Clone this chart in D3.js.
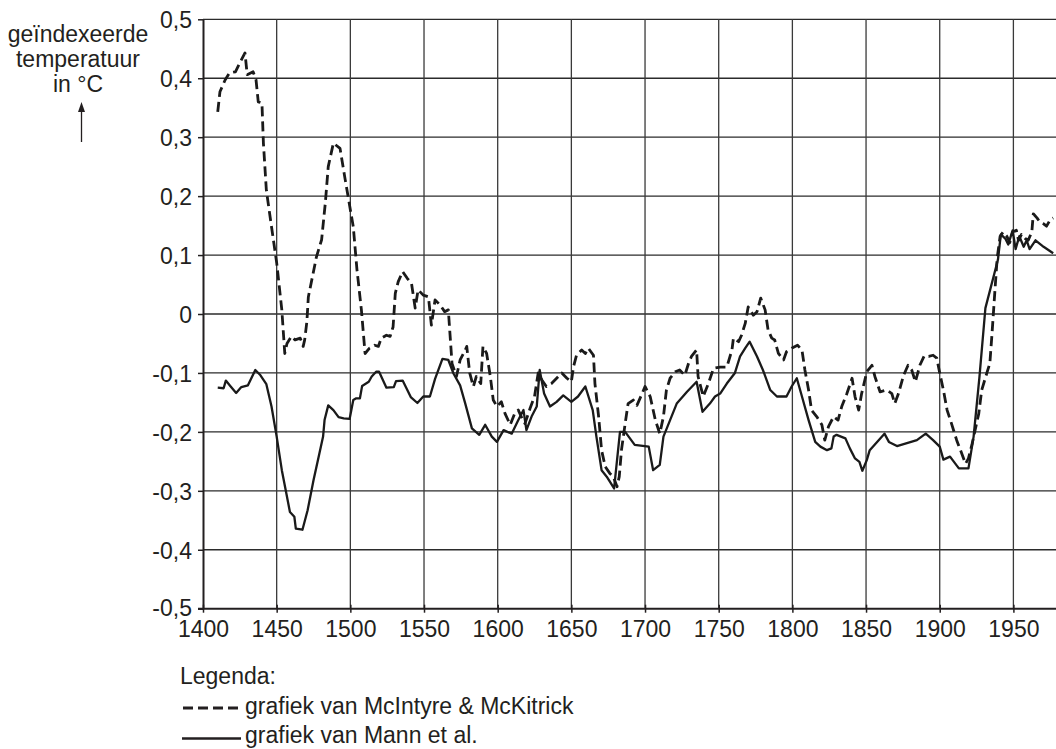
<!DOCTYPE html>
<html><head><meta charset="utf-8">
<script src="https://cdn.jsdelivr.net/npm/d3@7"></script>
<style>
body{margin:0;background:#fff}
svg text{font-family:"Liberation Sans",Arial,Helvetica,sans-serif;fill:#231f20}
</style>
</head><body>
<svg id="chart" width="1056" height="749"></svg>
<script>
// ---- data ----
const mmYears = [1410,1411.5,1415,1418,1422,1425,1428.5,1430,1434,1436,1437.5,1440,1441,1443,1446.5,1450,1453.5,1455.5,1457,1460,1462.5,1466,1468,1469,1470.5,1471.5,1477,1480.5,1483,1485,1488.5,1493,1496.5,1500,1502,1504.5,1507.5,1510,1513,1516.5,1519,1521,1524.5,1527,1529,1530.5,1532.5,1535.5,1538.5,1541.5,1544,1546,1549.5,1553,1555,1557.5,1561,1564,1566.5,1569,1572,1574.5,1578,1579,1581,1583.5,1585.5,1588.5,1590,1592.5,1595,1597,1599.5,1602.5,1605,1608.5,1611.5,1614,1616,1618.5,1622,1625,1627.5,1630,1633,1636.5,1640,1643.5,1647,1650,1651.5,1653.5,1657,1659.5,1661.5,1665,1666,1668.5,1670.5,1673,1676,1678.5,1681,1682.5,1684,1686.5,1688.5,1692,1694.5,1698,1700,1703.5,1707,1710,1712.5,1714.5,1717,1720.5,1723.5,1727,1729.5,1731.5,1735,1736,1739.5,1743,1746.5,1751,1755.5,1759,1760,1763.5,1765.5,1768,1770,1773.5,1776,1778.5,1781.5,1783.5,1786,1788,1790.5,1794,1796,1799.5,1803.5,1806.5,1808.5,1811,1813,1816.5,1820,1822,1824.5,1828,1831,1833.5,1837,1840.5,1842.5,1845,1847,1850.5,1854,1856,1859.5,1864,1867.5,1869.5,1872,1875.5,1878.5,1881,1883.5,1886.5,1889.5,1892.5,1895.5,1898,1900,1902.5,1905,1908,1911.5,1915,1917.5,1919.5,1922,1924,1926.5,1928.5,1932,1934,1935.5,1937.5,1939,1941,1943,1945.5,1947.5,1949.5,1952,1953.5,1955.5,1958,1960,1962.5,1963.5,1966,1968,1970.5,1972.5,1975,1977];
const mmValues = [0.343,0.377,0.397,0.409,0.411,0.426,0.443,0.406,0.411,0.397,0.36,0.358,0.29,0.21,0.148,0.087,0.007,-0.067,-0.05,-0.038,-0.044,-0.041,-0.055,-0.044,-0.013,0.029,0.097,0.126,0.188,0.25,0.29,0.281,0.228,0.177,0.148,0.075,0.007,-0.067,-0.058,-0.053,-0.055,-0.041,-0.036,-0.038,-0.022,0.035,0.055,0.072,0.061,0.052,0.01,0.041,0.032,0.029,-0.019,0.024,0.015,0.004,0.007,-0.084,-0.106,-0.078,-0.061,-0.055,-0.1,-0.123,-0.106,-0.118,-0.055,-0.067,-0.106,-0.146,-0.157,-0.149,-0.169,-0.188,-0.169,-0.163,-0.174,-0.186,-0.16,-0.14,-0.1,-0.112,-0.123,-0.118,-0.109,-0.1,-0.109,-0.115,-0.089,-0.07,-0.061,-0.067,-0.058,-0.07,-0.118,-0.174,-0.231,-0.259,-0.27,-0.276,-0.293,-0.276,-0.231,-0.186,-0.152,-0.146,-0.155,-0.135,-0.123,-0.14,-0.18,-0.203,-0.174,-0.129,-0.109,-0.098,-0.095,-0.104,-0.084,-0.072,-0.061,-0.106,-0.14,-0.118,-0.092,-0.09,-0.09,-0.061,-0.041,-0.047,-0.036,-0.016,0.012,-0.002,0.004,0.027,0.007,-0.027,-0.041,-0.044,-0.067,-0.078,-0.064,-0.058,-0.053,-0.061,-0.095,-0.129,-0.163,-0.174,-0.188,-0.214,-0.191,-0.174,-0.18,-0.157,-0.135,-0.109,-0.14,-0.163,-0.135,-0.098,-0.087,-0.106,-0.132,-0.129,-0.135,-0.152,-0.135,-0.104,-0.087,-0.095,-0.115,-0.087,-0.071,-0.072,-0.07,-0.075,-0.1,-0.129,-0.163,-0.186,-0.214,-0.237,-0.254,-0.245,-0.22,-0.197,-0.169,-0.129,-0.1,-0.084,-0.033,0.041,0.095,0.132,0.139,0.132,0.121,0.139,0.142,0.125,0.135,0.128,0.125,0.139,0.17,0.163,0.156,0.153,0.149,0.16,0.163];

const mannYears = [1410,1414,1415.5,1418.5,1422.5,1426,1430.5,1435.5,1439,1443,1446.5,1450,1453.5,1457,1459,1462,1463,1467.5,1471,1475,1478.5,1481.5,1482.5,1485,1488.5,1492,1495.5,1499.5,1502,1504,1506.5,1508,1512.5,1514.5,1517.5,1519.5,1524.5,1529.5,1531,1535.5,1541,1545.5,1549.5,1554,1557.5,1562.5,1566.5,1570,1574.5,1578,1582.5,1587.5,1591.5,1596,1599.5,1604,1609.5,1614,1617.5,1619.5,1623,1626.5,1628.5,1631.5,1635.5,1640,1644.5,1650,1654.5,1659.5,1664.5,1667,1670.5,1674,1679,1681,1683,1686.5,1693,1702.5,1705.5,1710,1712.5,1717,1721.5,1728.5,1735,1739,1744,1747.5,1751,1755.5,1761,1764.5,1768,1771,1776,1780,1785,1789.5,1796,1799.5,1803,1806.5,1811,1815.5,1819,1823.5,1826.5,1828,1830,1836,1839,1842.5,1845.5,1847.5,1850.5,1852.5,1857.5,1862.5,1865.5,1871,1884.5,1890.5,1895.5,1900,1902.5,1907,1913,1919.5,1923,1927,1931,1939.5,1941.5,1944.5,1946.5,1949.5,1951.5,1954,1957,1959,1961,1965,1970.5,1977];
const mannValues = [-0.125,-0.126,-0.113,-0.122,-0.134,-0.124,-0.121,-0.095,-0.104,-0.119,-0.157,-0.208,-0.265,-0.31,-0.336,-0.344,-0.364,-0.366,-0.333,-0.282,-0.242,-0.208,-0.18,-0.155,-0.163,-0.175,-0.177,-0.178,-0.146,-0.143,-0.143,-0.122,-0.115,-0.106,-0.098,-0.098,-0.125,-0.124,-0.114,-0.113,-0.141,-0.151,-0.14,-0.14,-0.11,-0.076,-0.078,-0.101,-0.121,-0.152,-0.194,-0.205,-0.188,-0.208,-0.217,-0.197,-0.203,-0.18,-0.163,-0.197,-0.174,-0.157,-0.095,-0.135,-0.157,-0.149,-0.138,-0.149,-0.14,-0.123,-0.163,-0.208,-0.265,-0.276,-0.296,-0.248,-0.2,-0.2,-0.222,-0.225,-0.265,-0.256,-0.208,-0.18,-0.152,-0.132,-0.115,-0.166,-0.152,-0.14,-0.135,-0.118,-0.1,-0.072,-0.058,-0.047,-0.072,-0.095,-0.129,-0.14,-0.14,-0.123,-0.109,-0.14,-0.18,-0.217,-0.225,-0.231,-0.228,-0.208,-0.205,-0.211,-0.228,-0.245,-0.251,-0.266,-0.248,-0.231,-0.217,-0.203,-0.217,-0.224,-0.214,-0.203,-0.214,-0.225,-0.247,-0.242,-0.262,-0.262,-0.208,-0.106,0.01,0.092,0.135,0.128,0.118,0.142,0.11,0.132,0.114,0.125,0.11,0.125,0.114,0.103];

const xTickValues = [1400,1450,1500,1550,1600,1650,1700,1750,1800,1850,1900,1950];
const xTickLabels = ["1400","1450","1500","1550","1600","1650","1700","1750","1800","1850","1900","1950"];
const yTickValues = [0.5,0.4,0.3,0.2,0.1,0,-0.1,-0.2,-0.3,-0.4,-0.5];
const yTickLabels = ["0,5","0,4","0,3","0,2","0,1","0","-0,1","-0,2","-0,3","-0,4","-0,5"];
const yTitleLines = ["geïndexeerde","temperatuur","in °C"];
const legendTitle = "Legenda:";
const seriesNames = ["grafiek van McIntyre & McKitrick","grafiek van Mann et al."];

// ---- drawing ----
const svg = d3.select("#chart");
const x = d3.scaleLinear().domain([1400,1980]).range([203,1057.6]);
const y = d3.scaleLinear().domain([-0.5,0.5]).range([608.7,19.3]);
const ink = "#231f20";
const FS = 23;

// grid
const grid = svg.append("g");
grid.selectAll("line.h").data(yTickValues.filter(v=>v!==-0.5)).enter().append("line")
  .attr("x1", x(1400)).attr("x2", x(1980))
  .attr("y1", d=>y(d)).attr("y2", d=>y(d))
  .attr("stroke", "#2b2b2b").attr("stroke-width", 1.3);
grid.selectAll("line.v").data(xTickValues.filter(v=>v!==1400)).enter().append("line")
  .attr("x1", d=>x(d)).attr("x2", d=>x(d))
  .attr("y1", y(0.5)).attr("y2", y(-0.5))
  .attr("stroke", "#3a3a3a").attr("stroke-width", 1.3);

// axes
const yAxis = d3.axisLeft(y).tickValues(yTickValues)
  .tickFormat((d,i)=>yTickLabels[i]).tickSizeInner(5).tickSizeOuter(0).tickPadding(6);
const gy = svg.append("g").attr("transform", `translate(${x(1400)},0)`).call(yAxis);
gy.select(".domain").attr("stroke", ink).attr("stroke-width", 2);
gy.selectAll(".tick line").attr("stroke", ink).attr("stroke-width", 1.5);
gy.selectAll(".tick text").attr("font-size", FS).attr("fill", ink)
  .attr("dy", d => d === -0.5 ? "0.28em" : "0.36em");

const xAxis = d3.axisBottom(x).tickValues(xTickValues)
  .tickFormat((d,i)=>xTickLabels[i]).tickSizeInner(4).tickSizeOuter(0);
const gx = svg.append("g").attr("transform", `translate(0,${y(-0.5)})`).call(xAxis);
gx.select(".domain").attr("stroke", ink).attr("stroke-width", 2)
  .attr("d", `M${x(1400)-5},0H${x(1980)}`);
gx.selectAll(".tick line").attr("stroke", ink).attr("stroke-width", 1.5).attr("y1", -4);
gx.selectAll(".tick text").attr("font-size", FS).attr("fill", ink).attr("y", 28).attr("dy", 0);

// series
const line = d3.line().x(d=>x(d[0])).y(d=>y(d[1]));
const mmData = mmYears.map((t,i)=>[t, mmValues[i]]);
const mannData = mannYears.map((t,i)=>[t, mannValues[i]]);
svg.append("path").datum(mannData).attr("d", line)
  .attr("fill","none").attr("stroke","#1a1a1a").attr("stroke-width",2.3).attr("stroke-linejoin","round");
svg.append("path").datum(mmData).attr("d", line)
  .attr("fill","none").attr("stroke","#1a1a1a").attr("stroke-width",2.8)
  .attr("stroke-dasharray","10,5").attr("stroke-linejoin","round");

// y title
const yt = svg.append("text").attr("text-anchor","middle").attr("font-size",FS).attr("fill",ink);
yTitleLines.forEach((s,i)=>{
  yt.append("tspan").attr("x",78).attr("y",42+i*25).text(s);
});
// arrow
svg.append("line").attr("x1",81.5).attr("x2",81.5).attr("y1",142).attr("y2",108)
  .attr("stroke",ink).attr("stroke-width",1.3);
svg.append("path").attr("d","M81.5,102 L78,112 L85,112 Z").attr("fill",ink);

// legend
svg.append("text").attr("x",180).attr("y",684).attr("font-size",FS).attr("fill",ink).text(legendTitle);
svg.append("line").attr("x1",183).attr("x2",241).attr("y1",708).attr("y2",708)
  .attr("stroke",ink).attr("stroke-width",2.8).attr("stroke-dasharray","10,5");
svg.append("text").attr("x",245).attr("y",714).attr("font-size",FS).attr("fill",ink).text(seriesNames[0]);
svg.append("line").attr("x1",182).attr("x2",241).attr("y1",738.5).attr("y2",738.5)
  .attr("stroke",ink).attr("stroke-width",2.3);
svg.append("text").attr("x",245).attr("y",743).attr("font-size",FS).attr("fill",ink).text(seriesNames[1]);
</script>
</body></html>
